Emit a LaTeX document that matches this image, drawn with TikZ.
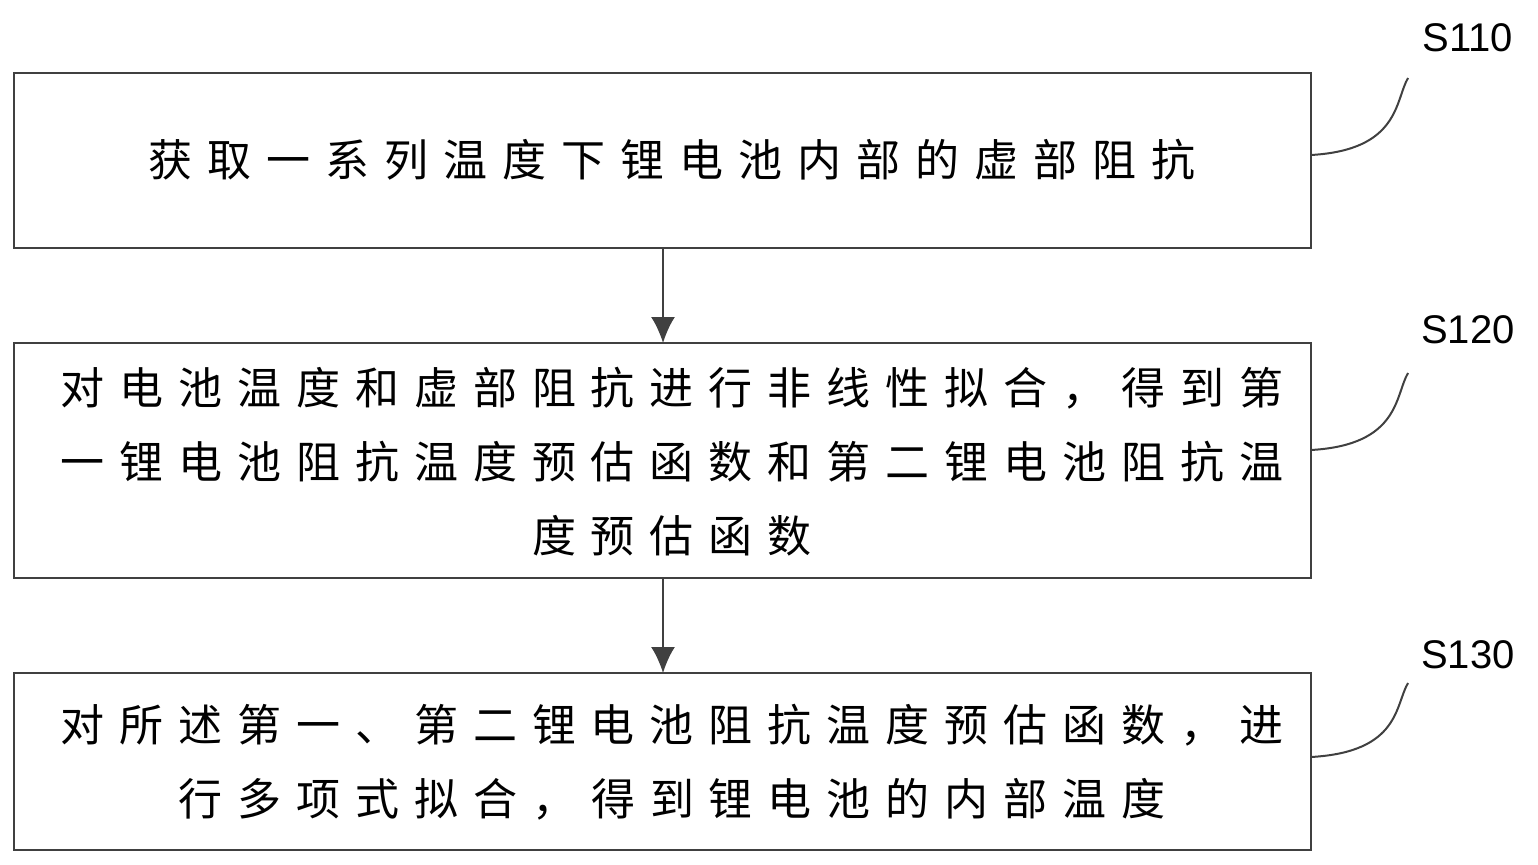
\documentclass[tikz,border=0pt]{standalone}
\usepackage{fontspec}
\usetikzlibrary{arrows.meta}
\setmainfont{Liberation Sans}
\newfontfamily\cjk[LetterSpace=34]{Noto Sans CJK SC}
\begin{document}
\begin{tikzpicture}[x=1pt,y=-1pt,
  box/.style={draw=black!75,line width=2pt},
  txt/.style={font=\cjk\fontsize{44}{74}\selectfont,align=center,inner sep=0pt},
  lab/.style={font=\fontsize{40}{44}\selectfont,inner sep=0pt},
  arr/.style={draw=black!75,line width=2pt,-{Latex[length=26pt,width=24pt]}},
  curve/.style={draw=black!75,line width=2pt}]
\useasboundingbox (0,0) rectangle (1538,864);
\draw[box] (14,73) rectangle (1311,248);
\draw[box] (14,343) rectangle (1311,578);
\draw[box] (14,673) rectangle (1311,850);
\coordinate (b1) at (663,248); \coordinate (t2) at (663,343);
\coordinate (b2) at (663,578); \coordinate (t3) at (663,673);
\node[txt] (n1) at (672,160) {获取一系列温度下锂电池内部的虚部阻抗};
\node[txt] (n2) at (672,462) {对电池温度和虚部阻抗进行非线性拟合，得到第\\一锂电池阻抗温度预估函数和第二锂电池阻抗温\\度预估函数};
\node[txt] (n3) at (672,762) {对所述第一、第二锂电池阻抗温度预估函数，进\\行多项式拟合，得到锂电池的内部温度};
\path[arr] (b1) -- (t2);
\path[arr] (b2) -- (t3);
\node[lab] (s1) at (1468,38) {S110};
\node[lab] (s2) at (1468,330) {S120};
\node[lab] (s3) at (1468,655) {S130};
\coordinate (c1) at (1311,155); \coordinate (d1) at (1408,78);
\coordinate (c2) at (1311,450); \coordinate (d2) at (1408,373);
\coordinate (c3) at (1311,757); \coordinate (d3) at (1408,683);
\draw[curve] (c1) .. controls (1400,150) and (1395,100) .. (d1);
\draw[curve] (c2) .. controls (1400,445) and (1395,395) .. (d2);
\draw[curve] (c3) .. controls (1400,752) and (1395,705) .. (d3);
\end{tikzpicture}
\end{document}
